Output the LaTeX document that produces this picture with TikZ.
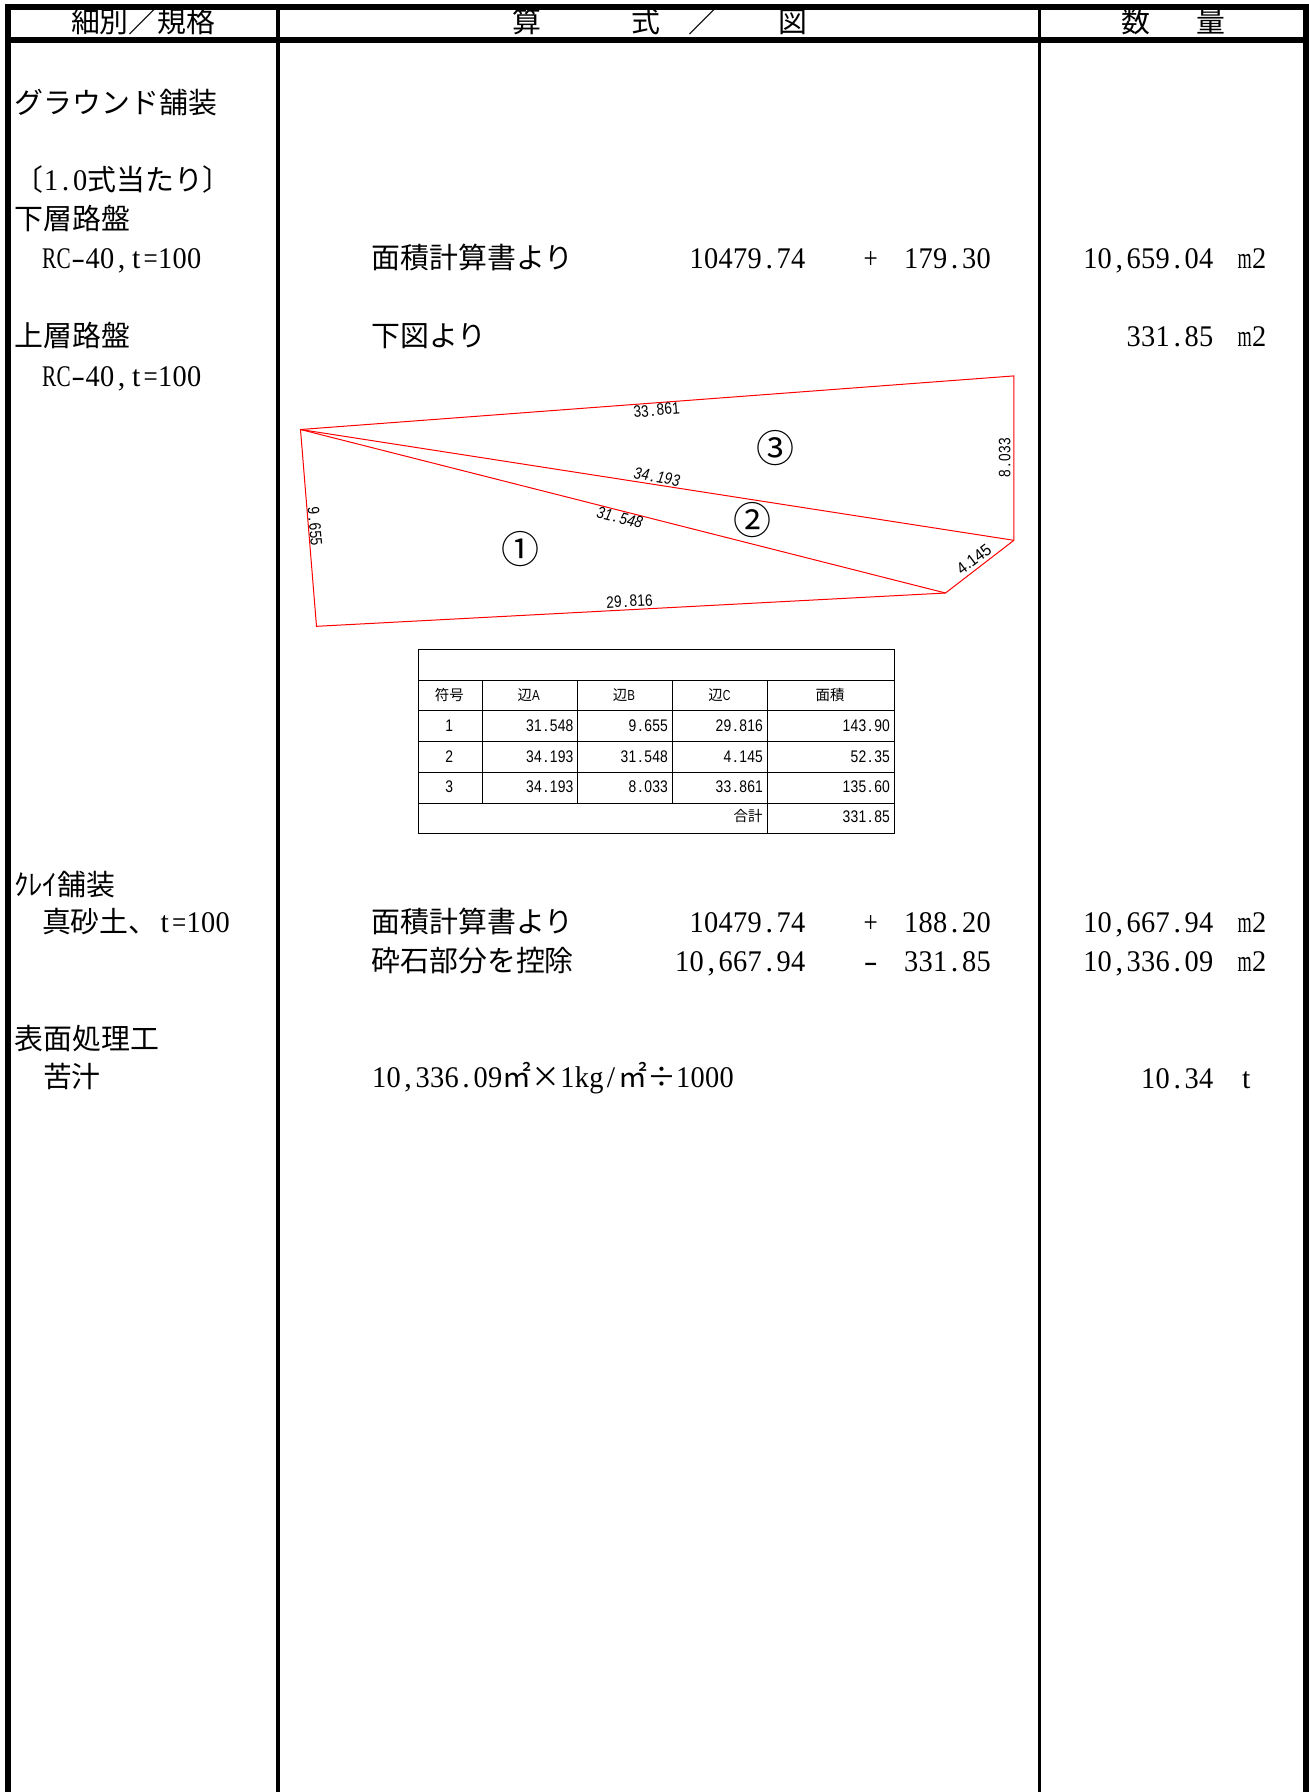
\documentclass[tikz,border=0pt]{standalone}
\usepackage{fontspec}
\usepackage{graphicx}
\setmainfont{Liberation Serif}
\newfontfamily\cjk{Noto Sans CJK JP}
\newfontfamily\goth{Liberation Sans}
\newsavebox\hcbox
\newdimen\hcd
\newdimen\hce
\def\hcf{.483}
\makeatletter
\newcommand\hc[1]{\hce=\hcf em\relax\hcd=\hce\advance\hcd by -.01em\relax\@tfor\hc@c:=#1\do{\sbox\hcbox{\hc@c}\makebox[\hce][c]{\ifdim\wd\hcbox>\hcd\resizebox{\hcd}{\height}{\usebox\hcbox}\else\usebox\hcbox\fi}}}
\makeatother
\newcommand\hyp{\resizebox{.46em}{\height}{-}}
\newcommand\J[1]{{\cjk\fontsize{28.9}{32}\selectfont #1}}
\tikzset{
  txt/.style={inner sep=0,outer sep=0,anchor=base west,font=\fontsize{30}{32}\selectfont},
  txtr/.style={txt,anchor=base east},
  lab/.style={inner sep=0,outer sep=0,anchor=center,font=\def\hcf{.47}\goth\fontsize{16.5}{18}\selectfont},
  labi/.style={lab,font=\def\hcf{.47}\goth\itshape\fontsize{16.5}{18}\selectfont},
  circ/.style={inner sep=0,outer sep=0,anchor=center,font=\cjk\fontsize{38}{40}\selectfont},
  tl/.style={inner sep=0,outer sep=0,anchor=base east,font=\def\hcf{.47}\goth\fontsize{16.8}{18}\selectfont},
  tc/.style={inner sep=0,outer sep=0,anchor=base,font=\def\hcf{.47}\goth\fontsize{16.8}{18}\selectfont},
  tj/.style={inner sep=0,outer sep=0,anchor=base,font=\def\hcf{.54}\cjk\fontsize{14.5}{16}\selectfont},
  redline/.style={draw=red,line width=1pt,line join=miter},
  rule/.style={draw=black,line width=1pt},
  bar/.style={fill=black,draw=none}
}
\begin{document}
\begin{tikzpicture}[x=1pt,y=-1pt]
\useasboundingbox (0,0) rectangle (1309,1792);
\fill[white] (0,0) rectangle (1309,1792);
% header
\node[txt] (h1) at (71,32) {\J{細別／規格}};
\node[txt] (h2) at (512,32) {\J{算}};
\node[txt] (h3) at (631,32) {\J{式}};
\node[txt] (h4) at (688,32) {\J{／}};
\node[txt] (h5) at (778,32) {\J{図}};
\node[txt] (h6) at (1121,32) {\J{数}};
\node[txt] (h7) at (1196,32) {\J{量}};
% left column
\node[txt] (a1) at (15,113) {\J{グラウンド舗装}};
\node[txt] (a2) at (15,190) {\J{〔}\hc{1.0}\J{式当たり〕}};
\node[txt] (a3) at (15,229.5) {\J{下層路盤}};
\node[txt] (a4) at (42,268.5) {\hc{RC\hyp40,t=100}};
\node[txt] (a5) at (15,346) {\J{上層路盤}};
\node[txt] (a6) at (42,386) {\hc{RC\hyp40,t=100}};
\node[txt] (a7) at (14,895) {\J{ｸﾚｲ舗装}};
\node[txt] (a8) at (42,932) {\J{真砂土、}\hc{t=100}};
\node[txt] (a9) at (15,1049.5) {\J{表面処理工}};
\node[txt] (a10) at (43,1087.5) {\J{苦汁}};
% middle column
\node[txt] (b1) at (371.5,268.5) {\J{面積計算書より}};
\node[txtr] (b2) at (805.5,268.5) {\hc{10479.74}};
\node[txt] (b3) at (863.5,268.5) {\hc{+}};
\node[txt] (b4) at (904,268.5) {\hc{179.30}};
\node[txt] (b5) at (371.5,346) {\J{下図より}};
\node[txt] (b6) at (371.5,932) {\J{面積計算書より}};
\node[txtr] (b7) at (805.5,932) {\hc{10479.74}};
\node[txt] (b8) at (863.5,932) {\hc{+}};
\node[txt] (b9) at (904,932) {\hc{188.20}};
\node[txt] (b10) at (371.5,971.5) {\J{砕石部分を控除}};
\node[txtr] (b11) at (805.5,971.5) {\hc{10,667.94}};
\node[txt] (b12) at (863.5,971.5) {\hc{\hyp}};
\node[txt] (b13) at (904,971.5) {\hc{331.85}};
\node[txt] (b14) at (372,1087.5) {\hc{10,336.09}\J{㎡×}\hc{1kg/}\J{㎡÷}\hc{1000}};
% right column
\node[txtr] (c1) at (1213.5,268.5) {\hc{10,659.04}};
\node[txt] (c2) at (1237.5,268.5) {\hc{m2}};
\node[txtr] (c3) at (1213.5,346) {\hc{331.85}};
\node[txt] (c4) at (1237.5,346) {\hc{m2}};
\node[txtr] (c5) at (1213.5,932) {\hc{10,667.94}};
\node[txt] (c6) at (1237.5,932) {\hc{m2}};
\node[txtr] (c7) at (1213.5,971.5) {\hc{10,336.09}};
\node[txt] (c8) at (1237.5,971.5) {\hc{m2}};
\node[txtr] (c9) at (1213.5,1088) {\hc{10.34}};
\node[txt] (c10) at (1239,1088) {\hc{t}};
% red figure
\coordinate (A) at (300.5,429.5);
\coordinate (B) at (316.5,626.3);
\coordinate (C) at (945.5,593);
\coordinate (D) at (1013.9,540.3);
\coordinate (E) at (1013.9,375.9);
\draw[redline] (A) -- (B) -- (C) -- (D) -- (E) -- cycle;
\draw[redline] (A) -- (C);
\draw[redline] (A) -- (D);
\node[lab,rotate=5] (l1) at (656.6,410) {\hc{33.861}};
\node[labi,rotate=-10] (l2) at (657,476.7) {\hc{34.193}};
\node[labi,rotate=-14] (l3) at (619.8,517.7) {\hc{31.548}};
\node[lab,rotate=-85] (l4) at (315,526.7) {\hc{9.655}};
\node[lab,rotate=90] (l5) at (1004.7,457.7) {\hc{8.033}};
\node[lab,rotate=37] (l6) at (974,559) {\resizebox{38.75pt}{\height}{4.145}};
\node[lab,rotate=3] (l7) at (629.5,601.3) {\hc{29.816}};
\node[circ] (n1) at (520,548.7) {①};
\node[circ] (n2) at (752.6,520) {②};
\node[circ] (n3) at (775.4,447.7) {③};
% table
\draw[rule] (418.3,649.3) rectangle (894.3,833.3);
\foreach \yy in {680,710.7,741.3,772,803} \draw[rule] (418.3,\yy) -- (894.3,\yy);
\foreach \xx in {482.3,577.3,672.3} \draw[rule] (\xx,680) -- (\xx,803);
\draw[rule] (767.3,680) -- (767.3,833.3);
\node[tj] (t1) at (449.3,700) {符号};
\node[tj] (t2) at (528.8,700) {辺{\goth\hc{A}}};
\node[tj] (t3) at (624,700) {辺{\goth\hc{B}}};
\node[tj] (t4) at (719.5,700) {辺{\goth\hc{C}}};
\node[tj] (t5) at (830,700) {面積};
\node[tc] (r11) at (449.3,731.7) {\hc{1}};
\node[tl] (r12) at (573.5,731.7) {\hc{31.548}};
\node[tl] (r13) at (668,731.7) {\hc{9.655}};
\node[tl] (r14) at (763,731.7) {\hc{29.816}};
\node[tl] (r15) at (890,731.7) {\hc{143.90}};
\node[tc] (r21) at (449.3,762.3) {\hc{2}};
\node[tl] (r22) at (573.5,762.3) {\hc{34.193}};
\node[tl] (r23) at (668,762.3) {\hc{31.548}};
\node[tl] (r24) at (763,762.3) {\hc{4.145}};
\node[tl] (r25) at (890,762.3) {\hc{52.35}};
\node[tc] (r31) at (449.3,792.3) {\hc{3}};
\node[tl] (r32) at (573.5,792.3) {\hc{34.193}};
\node[tl] (r33) at (668,792.3) {\hc{8.033}};
\node[tl] (r34) at (763,792.3) {\hc{33.861}};
\node[tl] (r35) at (890,792.3) {\hc{135.60}};
\node[tj,anchor=base east] (r41) at (762.5,821.5) {合計};
\node[tl] (r45) at (890,822.7) {\hc{331.85}};
% frame
\fill[bar] (5,4) rectangle (1309,9.5);
\fill[bar] (5,37) rectangle (1309,43);
\fill[bar] (5,4) rectangle (11,1792);
\fill[bar] (276,4) rectangle (280,1792);
\fill[bar] (1037.5,4) rectangle (1041,1792);
\fill[bar] (1303,4) rectangle (1309,1792);
\end{tikzpicture}
\end{document}
